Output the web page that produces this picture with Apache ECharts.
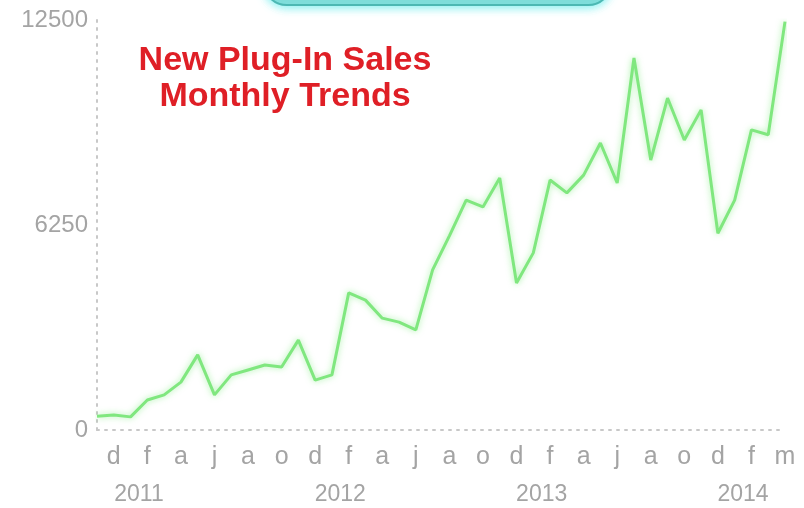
<!DOCTYPE html>
<html>
<head>
<meta charset="utf-8">
<script src="https://cdn.jsdelivr.net/npm/echarts@6/dist/echarts.min.js"></script>
<style>
  html, body { margin: 0; padding: 0; background: #ffffff; }
  #chart { width: 804px; height: 508px; }
</style>
</head>
<body>
<div id="chart"></div>
<script>
// Monthly new plug-in sales
const sales = [
  420, 460, 400, 915, 1070, 1460, 2290, 1070, 1680, 1830,
  1980, 1920, 2740, 1520, 1680, 4180, 3960, 3410, 3290, 3050,
  4880, 5920, 7010, 6800, 7680, 4480, 5400, 7620, 7230, 7770,
  8750, 7530, 11340, 8230, 10120, 8840, 9760, 6000, 7010, 9150,
  9000, 12450
];
// Month tick labels shown on every second point (odd indices)
const monthTicks = ['d','f','a','j','a','o','d','f','a','j','a','o','d','f','a','j','a','o','d','f','m'];
// Year labels and the month gaps they sit under
const yearLabels = ['2011', '2012', '2013', '2014'];
const yearGapIndex = [2, 14, 26, 38];
const yTicks = [0, 6250, 12500];

const pointCats = sales.map((_, i) => String(i));
const gapCats = sales.slice(1).map((_, i) => String(i));

const chart = echarts.init(document.getElementById('chart'), null, { renderer: 'canvas' });
const labelGray = '#a4a4a4';

chart.setOption({
  animation: false,
  backgroundColor: '#ffffff',
  title: {
    text: 'New Plug-In Sales\nMonthly Trends',
    left: 285,
    top: 43,
    padding: 0,
    textAlign: 'center',
    textStyle: {
      fontFamily: 'Liberation Sans',
      fontWeight: 'bold',
      fontSize: 34,
      lineHeight: 36,
      color: '#df1f26'
    }
  },
  graphic: [{
    type: 'rect',
    shape: { x: 264, y: -40, width: 347, height: 45, r: 28 },
    style: { fill: '#7fdcd8', stroke: '#4cb8b3', lineWidth: 2, shadowBlur: 8, shadowColor: 'rgba(120,240,240,0.9)', shadowOffsetY: 2 },
    z: 10
  }],
  grid: { left: 97, right: 19, top: 20, bottom: 78, containLabel: false },
  xAxis: [{
    type: 'category',
    data: pointCats,
    boundaryGap: false,
    axisLine: { show: true, lineStyle: { color: '#c8c8c8', width: 2, type: [2, 6] } },
    axisTick: { show: false },
    splitLine: { show: false },
    axisLabel: {
      interval: 0,
      margin: 15,
      color: labelGray,
      fontFamily: 'Liberation Sans',
      fontSize: 25,
      formatter: (v, i) => (i % 2 === 1 ? monthTicks[(i - 1) / 2] : '')
    }
  }, {
    type: 'category',
    data: gapCats,
    boundaryGap: true,
    position: 'bottom',
    axisLine: { show: false },
    axisTick: { show: false },
    splitLine: { show: false },
    axisLabel: {
      interval: 0,
      margin: 53,
      color: labelGray,
      fontFamily: 'Liberation Sans',
      fontSize: 23,
      formatter: (v, i) => {
        const k = yearGapIndex.indexOf(i);
        return k >= 0 ? yearLabels[k] : '';
      }
    }
  }],
  yAxis: {
    type: 'value',
    min: yTicks[0],
    max: yTicks[yTicks.length - 1],
    interval: yTicks[1] - yTicks[0],
    axisLine: { show: true, lineStyle: { color: '#c8c8c8', width: 2, type: [2, 6] } },
    axisTick: { show: false },
    splitLine: { show: false },
    axisLabel: {
      margin: 9,
      color: labelGray,
      fontFamily: 'Liberation Sans',
      fontSize: 24,
      formatter: (v) => String(v)
    }
  },
  series: [{
    type: 'line',
    xAxisIndex: 0,
    data: sales,
    showSymbol: false,
    symbol: 'none',
    lineStyle: { color: '#80e77f', width: 3, shadowBlur: 6, shadowColor: 'rgba(130,235,130,0.7)' }
  }]
});
</script>
</body>
</html>
